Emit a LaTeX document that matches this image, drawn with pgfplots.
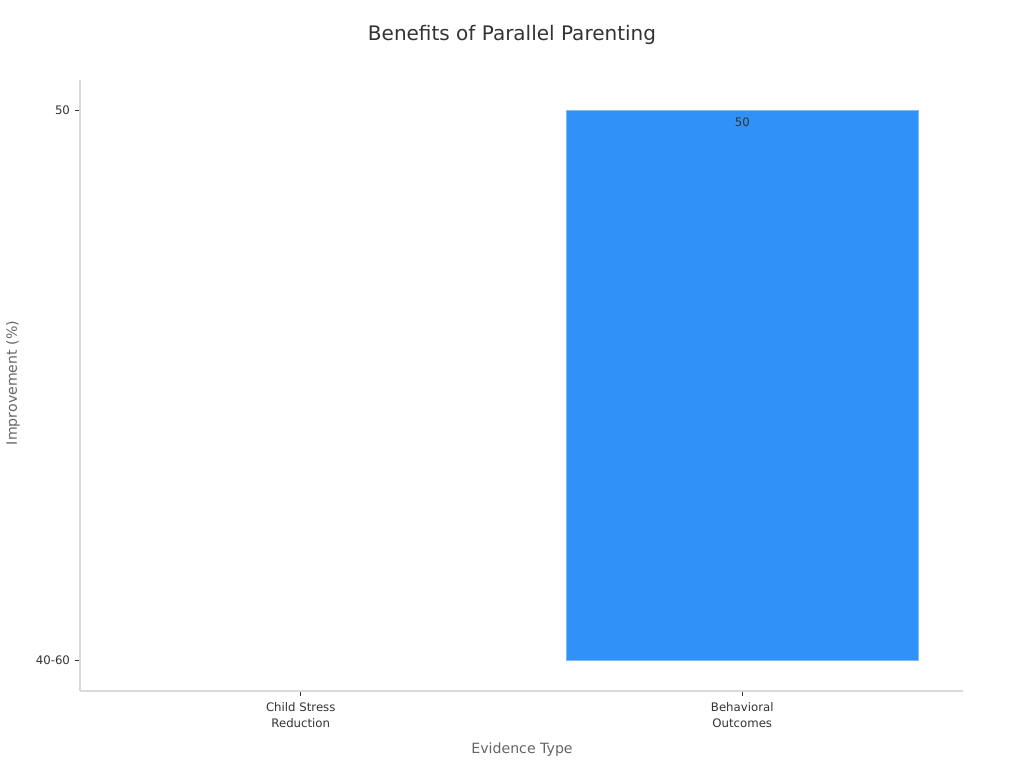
\documentclass[border=0pt]{standalone}
\usepackage{fontspec}
\setmainfont{DejaVu Sans}
\usepackage{pgfplots}
\pgfplotsset{compat=1.18}
\definecolor{barblue}{HTML}{3092F9}
\definecolor{baredge}{HTML}{7DBBF7}
\definecolor{axgray}{HTML}{DADADA}
\definecolor{ticktext}{HTML}{333333}
\definecolor{labeltext}{HTML}{666666}
\begin{document}
\begin{tikzpicture}[x=0.75pt,y=0.75pt]
\path[use as bounding box] (0,0) rectangle (1024,768);
\begin{axis}[
  at={(60pt,57.75pt)}, anchor=south west,
  scale only axis,
  width=662.25pt, height=458.25pt,
  xmin=-0.5, xmax=1.5,
  ymin=-0.0564, ymax=1.0545,
  axis lines*=left,
  axis line style={axgray, line width=0.8pt},
  xtick={0,1},
  xticklabels={{Child Stress\\Reduction},{Behavioral\\Outcomes}},
  ytick={0,1},
  yticklabels={40-60,50},
  x tick label style={align=center, font=\fontsize{8.8}{11.3}\selectfont, text=ticktext, yshift=-1.5pt},
  y tick label style={font=\fontsize{8.8}{11}\selectfont, text=ticktext},
  tick style={ticktext, line width=0.6pt},
  tick align=outside,
  major tick length=4pt,
  ybar, bar width=264pt, bar shift=0pt,
]
\addplot[draw=none, fill=none] coordinates {(0,0)};
\addplot[fill=barblue, draw=baredge, line width=0.6pt,
  nodes near coords={50},
  every node near coord/.append style={anchor=north, yshift=-2pt, font=\fontsize{8.8}{11}\selectfont, text=ticktext}]
  coordinates {(1,1)};
\end{axis}
\node[font=\fontsize{15}{18}\selectfont, text=ticktext] at (512,733) {Benefits of Parallel Parenting};
\node[font=\fontsize{10.6}{13}\selectfont, text=labeltext] at (522,18) {Evidence Type};
\node[font=\fontsize{10.6}{13}\selectfont, text=labeltext, rotate=90] at (13,385) {Improvement (\%)};
\end{tikzpicture}
\end{document}
